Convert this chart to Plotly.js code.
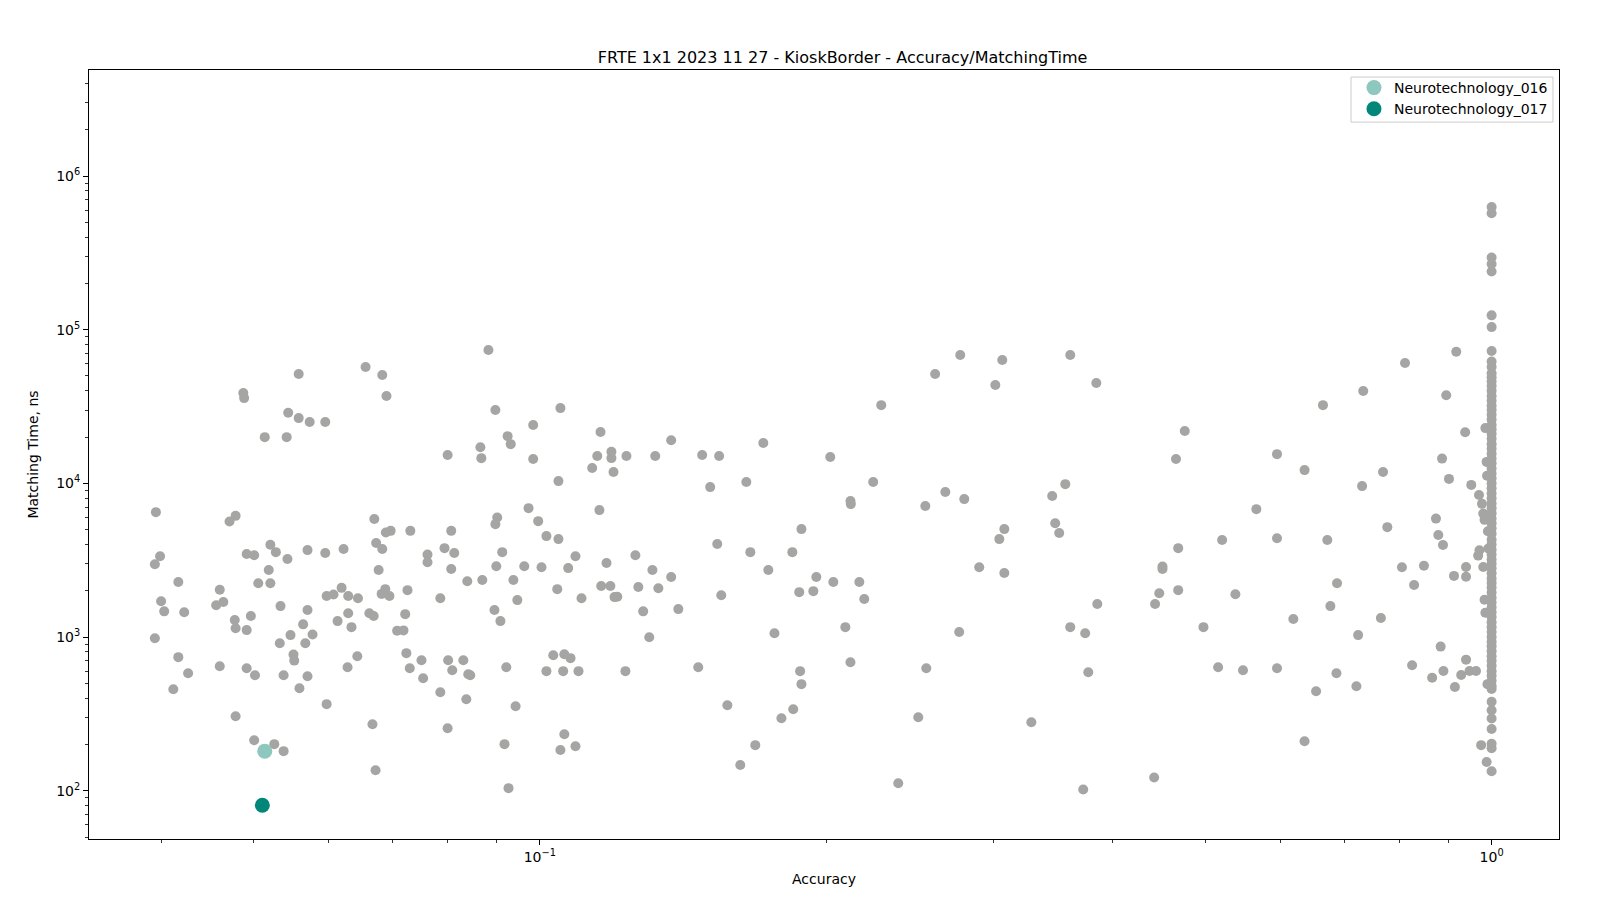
<!DOCTYPE html>
<html>
<head>
<meta charset="utf-8">
<script src="https://cdn.plot.ly/plotly-3.0.1.min.js"></script>
<style>html,body{margin:0;padding:0;background:#fff;}#chart{width:1600px;height:900px;}</style>
</head>
<body>
<div id="chart"></div>
<script>
// ---- Data ----
const grayAccuracy = [
0.0558,0.0656,0.0683,0.0690,0.0488,0.0489,0.0544,0.0558,0.0573,0.0595,0.0514,0.0542,0.0395,0.0479,0.0472,0.0670,0.0697,0.0689,0.0399,0.0394,
0.0417,0.0492,0.0501,0.0521,0.0528,0.0543,0.0570,0.0595,0.0622,0.0673,0.0683,0.0677,0.0519,0.0506,0.0521,0.0461,0.0619,0.0688,
0.0400,0.0403,0.0423,0.0457,0.0465,0.0534,0.0570,0.0597,0.0607,0.0629,0.0644,0.0682,0.0695,0.0478,0.0479,0.0492,0.0497,0.0394,
0.0547,0.0533,0.0564,0.0567,0.0577,0.0613,0.0629,0.0634,0.0662,0.0669,0.0417,0.0427,0.0412,0.0461,0.0492,0.0502,0.0538,0.0551,
0.0552,0.0570,0.0559,0.0643,0.0628,0.0597,0.0479,0.0667,0.0501,0.0526,0.0538,0.0672,
0.0883,0.0898,0.1051,0.0984,0.1158,0.1374,0.0925,0.0932,0.0800,0.0866,0.0868,0.0984,0.1046,0.1149,0.1189,0.1189,0.1233,0.1322,
0.1135,0.1195,0.0973,0.0996,0.1155,0.0902,0.0898,0.1016,0.1046,0.0731,0.0807,0.0762,0.0762,0.0794,0.0813,0.0807,0.0913,0.0900,
0.0963,0.1004,0.1071,0.1090,0.1175,0.1260,0.1313,0.1374,0.0839,0.0870,0.0938,0.0726,0.1043,0.1160,0.1186,0.1269,0.1332,
0.0786,0.0947,0.1106,0.1198,0.1206,0.0896,0.0909,0.0722,0.0708,0.0719,0.1284,0.1398,0.1303,0.0724,0.0751,0.0730,0.0754,0.0801,
0.0831,0.0809,0.0841,0.0845,0.0922,0.0786,0.0837,0.0943,0.1033,0.1061,0.1077,0.1016,0.1058,0.1098,0.1230,0.0800,0.0918,0.1061,
0.1051,0.1090,0.0927,
0.2765,0.3061,0.3608,0.2602,0.3010,0.3843,0.2284,0.1717,0.1481,0.1543,0.2019,0.1510,0.1648,0.2240,0.2120,0.2122,0.2667,0.2792,
0.2541,0.3565,0.3454,0.3479,0.3513,0.3076,0.3039,0.1883,0.1536,0.1664,0.1842,0.1738,0.1952,0.2034,0.2166,0.1873,0.1938,0.2192,
0.1551,0.2895,0.3076,0.3852,0.1764,0.2094,0.2758,0.3608,0.3741,0.1467,0.1877,0.1883,0.2120,0.2547,0.3769,0.1574,0.1846,0.1794,
0.2498,0.3284,0.1684,0.1624,0.2380,0.3723,
0.811,0.733,0.665,0.476,0.466,0.595,0.636,0.769,0.731,0.566,0.777,0.521,0.595,0.672,0.4685,0.451,0.451,0.4475,0.443,0.4685,
0.538,0.805,0.829,0.688,0.677,0.619,0.765,0.724,0.498,0.516,0.548,0.595,0.687,0.654,0.721,0.825,0.636,0.442,
0.918,0.896,0.938,0.985,0.887,0.902,0.952,0.970,0.977,0.980,0.983,0.874,0.879,0.889,0.849,0.913,0.940,0.940,0.971,0.968,
0.980,0.988,0.989,0.991,0.992,0.983,0.985,0.884,0.940,0.890,0.866,0.929,0.948,0.963,0.915,0.990,0.975,0.988,
1,1,1,1,1,1,1,1,1,1,
1,1,1,1,1,1,1,1,1,1,1,1,1,1,1,1,1,1,1,1,1,1,1,1,1,1,1,1,1,1,1,1,1,
1,1,1,1,1,1,1,1,1,1,1,1,1,1,1,1,1,1,1,1,1,1,1,1,1,1,1,1,1,1,1,1,1,
1,1,1,1,1,1,1
];
const grayMatchingTime = [
51500,57200,50700,37000,38700,35900,28800,26600,25100,25100,20000,20000,6500,6150,5650,5860,4910,4790,3360,2980,
2280,3470,3410,3990,3570,3220,3680,3520,3740,4090,3740,2730,2730,2240,2240,2030,2090,2050,
1710,1470,1450,1610,1690,1590,1500,1850,1890,1850,1790,1910,1850,1290,1140,1110,1370,983,
1030,912,1210,912,1040,1270,1430,1160,1430,1370,740,582,458,646,627,565,565,769,
703,556,465,751,637,366,305,271,213,201,181,136,
73800,30000,30900,24000,21600,19100,20300,18000,15300,17200,14600,14400,10350,15060,16060,14610,15060,15060,
12580,11850,6900,5680,6700,6000,5430,4540,4340,4910,4910,3440,3070,3790,3520,2770,3570,2890,
2890,2850,2810,3360,3030,3410,2730,2460,2310,2350,2350,2020,2050,2150,2150,2120,2080,
1790,1740,1790,1820,1830,1500,1270,1410,1100,1105,1470,1520,998,786,707,627,540,707,
707,609,573,565,637,438,394,355,762,774,729,600,600,600,600,255,201,233,
184,195,104,
68400,63500,68400,51500,43700,45000,32300,18300,15300,15060,14840,9460,10200,10200,7670,7330,8780,7900,
7120,9890,8270,5510,4750,5040,4340,5040,4030,3570,3570,2730,2460,2280,2280,1960,1990,1770,
1870,2850,2610,1640,1060,1160,1080,1160,1060,637,600,494,686,627,591,360,339,296,
301,279,198,147,112,102,
60700,39900,32300,21900,14400,15500,12200,11850,9600,6800,5190,4280,4400,4280,3790,2880,2770,1930,1640,2020,
1900,2850,2180,2240,1590,1310,1330,1030,1160,637,609,627,582,444,479,656,210,122,
71800,37500,21500,22900,14500,10700,9780,8410,7360,6360,5790,5900,4610,3970,2910,2500,2860,2470,3670,3390,
2860,13800,11200,4880,3770,1750,1440,867,713,601,543,567,601,601,473,494,198,154,
628000,572000,295000,268000,239000,124000,104000,72700,62100,57200,
52000,49000,46000,43000,40000,37000,34500,32000,30000,28000,26000,24000,22500,21000,19500,18000,16800,15600,14500,13500,12500,11600,10800,10000,9300,8600,8000,7400,6900,6400,5900,5500,5100,
4700,4300,4000,3700,3450,3200,3000,2800,2600,2400,2250,2100,1950,1800,1680,1560,1450,1350,1250,1160,1080,1000,930,870,810,750,700,
650,600,560,520,480,460,379,334,295,252,202,189,134
];
const nt016Accuracy = [0.0514];
const nt016MatchingTime = [181];
const nt017Accuracy = [0.0511];
const nt017MatchingTime = [80.4];

const xTickVals = [0.1, 1];
const xTickText = ['10<sup>\u22121</sup>', '10<sup>0</sup>'];
const xMinorVals = [0.04,0.05,0.06,0.07,0.08,0.09,0.2,0.3,0.4,0.5,0.6,0.7,0.8,0.9];
const yTickVals = [1e2, 1e3, 1e4, 1e5, 1e6];
const yTickText = ['10<sup>2</sup>','10<sup>3</sup>','10<sup>4</sup>','10<sup>5</sup>','10<sup>6</sup>'];
const yMinorVals = [50,60,70,80,90,200,300,400,500,600,700,800,900,2000,3000,4000,5000,6000,7000,8000,9000,
  20000,30000,40000,50000,60000,70000,80000,90000,200000,300000,400000,500000,600000,700000,800000,900000,2000000,3000000,4000000];

const FONT = 'DejaVu Sans, Verdana, sans-serif';

const traces = [
  {x: grayAccuracy, y: grayMatchingTime, type: 'scatter', mode: 'markers', showlegend: false, hoverinfo: 'x+y',
   marker: {color: 'rgb(165,166,164)', size: 10, line: {width: 0}}},
  {x: nt016Accuracy, y: nt016MatchingTime, type: 'scatter', mode: 'markers', name: 'Neurotechnology_016',
   marker: {color: '#8dc7bd', size: 15, line: {width: 0}}},
  {x: nt017Accuracy, y: nt017MatchingTime, type: 'scatter', mode: 'markers', name: 'Neurotechnology_017',
   marker: {color: '#00877a', size: 15, line: {width: 0}}}
];

const axisCommon = {
  type: 'log', showline: true, linecolor: '#000', linewidth: 1, mirror: true,
  ticks: 'outside', ticklen: 5, tickwidth: 1, tickcolor: '#000',
  showgrid: false, zeroline: false, tickmode: 'array',
  tickfont: {family: FONT, size: 14, color: '#000'}
};

const layout = {
  width: 1600, height: 900,
  paper_bgcolor: '#fff', plot_bgcolor: '#fff',
  font: {family: FONT, color: '#000'},
  margin: {l: 89, r: 41, t: 70, b: 61, pad: 0},
  title: {text: 'FRTE 1x1 2023 11 27 - KioskBorder - Accuracy/MatchingTime',
          font: {family: FONT, size: 16, color: '#000'},
          x: 0.5266, xanchor: 'center', y: 0.936, yanchor: 'middle'},
  xaxis: Object.assign({}, axisCommon, {
    range: [-1.4737, 0.0708], tickvals: xTickVals, ticktext: xTickText,
    minor: {tickmode: 'array', tickvals: xMinorVals, ticks: 'outside', ticklen: 3, tickwidth: 0.8, tickcolor: '#000', showgrid: false},
    title: {text: 'Accuracy', font: {family: FONT, size: 14, color: '#000'}, standoff: 10}
  }),
  yaxis: Object.assign({}, axisCommon, {
    range: [1.686, 6.690], tickvals: yTickVals, ticktext: yTickText,
    minor: {tickmode: 'array', tickvals: yMinorVals, ticks: 'outside', ticklen: 3, tickwidth: 0.8, tickcolor: '#000', showgrid: false},
    title: {text: 'Matching Time, ns', font: {family: FONT, size: 14, color: '#000'}, standoff: 14}
  }),
  shapes: [
    {type: 'rect', xref: 'paper', yref: 'paper', x0: 0.8585, x1: 0.9959, y0: 0.9322, y1: 0.9908,
     fillcolor: '#ffffff', line: {color: '#cccccc', width: 1}, layer: 'above'}
  ],
  legend: {x: 0.9959, xanchor: 'right', y: 0.9974, yanchor: 'top',
           bgcolor: 'rgba(0,0,0,0)', borderwidth: 0,
           font: {family: FONT, size: 14, color: '#000'}, itemsizing: 'trace'},
  showlegend: true
};

Plotly.newPlot('chart', traces, layout, {displayModeBar: false, staticPlot: true});
</script>
</body>
</html>
